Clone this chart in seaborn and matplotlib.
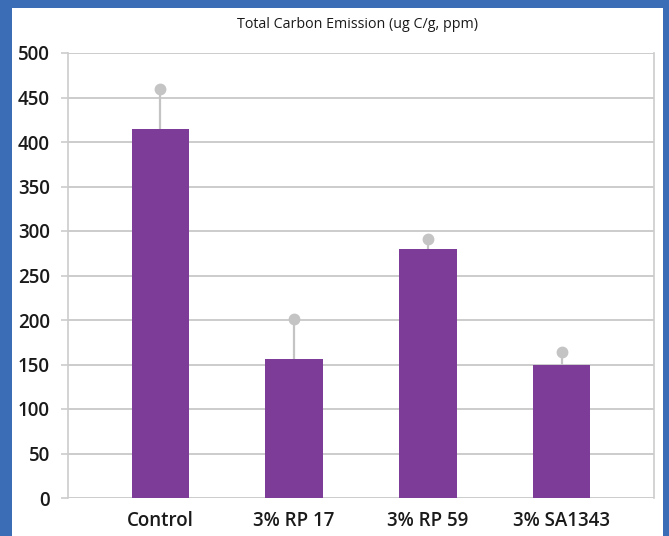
import numpy as np
import pandas as pd
import matplotlib
matplotlib.use("Agg")
import matplotlib.pyplot as plt
import seaborn as sns

# ── Data ──────────────────────────────────────────────────────────────────────
categories = ["Control", "3% RP 17", "3% RP 59", "3% SA1343"]
emission   = [415, 156, 280, 150]
upper_err  = [460, 201, 291, 164]   # top of error bar
y_ticks    = [0, 50, 100, 150, 200, 250, 300, 350, 400, 450, 500]

BAR   = "#7D3C98"
GREY  = "#C4C4C4"
GRID  = "#CCCCCC"

sns.set_style("white")
plt.rcParams['font.family'] = ['Open Sans', 'DejaVu Sans']

df = pd.DataFrame({"group": categories, "value": emission})

fig = plt.figure(figsize=(6.69, 5.36), dpi=100)
fig.patch.set_facecolor("#3A6DB5")
# white panel
fig.add_artist(plt.Rectangle((12/669, 0), (663-12)/669, 1 - 8/536,
                             transform=fig.transFigure, facecolor="white",
                             edgecolor="none", zorder=0))

ax = fig.add_axes([68/669, 1 - 498/536, (654-68)/669, (498-53)/536])
ax.set_facecolor("white")

sns.barplot(data=df, x="group", y="value", color=BAR, width=0.43,
            saturation=1, errorbar=None, linewidth=0, ax=ax, zorder=3)

# error bars (upper only, dot cap)
xs = np.arange(len(categories))
ax.vlines(xs, emission, upper_err, color=GREY, lw=1.6, zorder=2)
ax.plot(xs, upper_err, 'o', color=GREY, ms=7.5, zorder=4)

ax.set_xlim(-0.69, 3.69)
ax.set_ylim(0, 500)
ax.set_yticks(y_ticks)
ax.yaxis.grid(True, color=GRID, lw=1.4, zorder=0)
ax.set_axisbelow(True)
ax.set_xlabel("")
ax.set_ylabel("")

for s in ["top", "bottom"]:
    ax.spines[s].set_visible(False)
for s in ["left", "right"]:
    ax.spines[s].set_color(GRID)
    ax.spines[s].set_linewidth(1.2)

ax.tick_params(axis='y', length=5, width=1.2, color=GRID, pad=8,
               labelsize=13.5, left=True)
ax.tick_params(axis='x', length=0, pad=9, labelsize=13.5)
for lbl in ax.get_xticklabels() + ax.get_yticklabels():
    lbl.set_fontweight("semibold")
    lbl.set_color("#1A1A1A")

fig.text(358/669, 1 - 24/536, "Total Carbon Emission (ug C/g, ppm)",
         ha="center", va="center", fontsize=10.3, fontweight="medium",
         color="#1A1A1A")

fig.savefig("out.png", dpi=100, facecolor=fig.get_facecolor())
